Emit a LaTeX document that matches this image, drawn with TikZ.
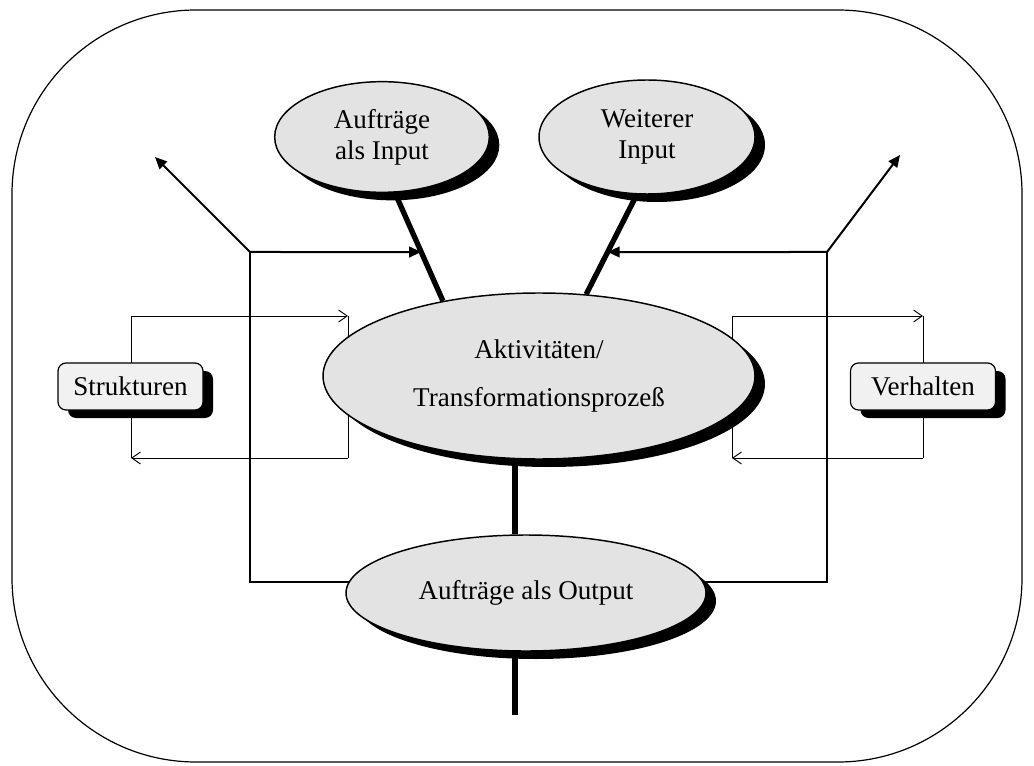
\documentclass[tikz,border=0pt]{standalone}
\usepackage{fontspec}
\setmainfont{Liberation Serif}
\usetikzlibrary{shapes.geometric,shadows,arrows.meta,backgrounds}
\definecolor{procgray}{gray}{0.89}
\definecolor{boxgray}{gray}{0.945}
\begin{document}
\begin{tikzpicture}[x=0.75pt,y=-0.75pt,
  every node/.style={font=\fontsize{20.3}{23.4}\selectfont, text=black},
  shadowed/.style={drop shadow={shadow xshift=7.5pt, shadow yshift=-6pt, fill=black, opacity=1}},
  proc/.style={ellipse, draw=black, line width=1.1pt, fill=procgray, inner sep=0pt, align=center, shadowed},
  labelbox/.style={rectangle, rounded corners=6pt, draw=black, line width=0.9pt, fill=boxgray,
    minimum width=108.75pt, minimum height=35.25pt, inner sep=0pt, shadowed},
  frameline/.style={line width=1.5pt},
  frametip/.style={-{Triangle[length=9pt,width=8pt]}},
  feed/.style={line width=4pt},
  loopline/.style={line width=0.7pt},
  looptip/.style={-{Straight Barb[length=6.5pt,width=9pt,line width=0.7pt]}},
]
\useasboundingbox (0,0) rectangle (1034,766);

% outer frame
\draw[line width=0.9pt, rounded corners=138pt] (12,10) rectangle (1022,762);

% process ellipses and labels
\node[proc, minimum width=161pt, minimum height=83pt] (inA) at (382,137) {Aufträge\\als Input};
\node[proc, minimum width=162pt, minimum height=85.5pt] (inB) at (647,137) {Weiterer\\Input};
\node[proc, minimum width=324pt, minimum height=124.5pt] (main) at (539,376)
  {Aktivitäten/\\[12.5pt]Transformationsprozeß};
\node[proc, minimum width=270pt, minimum height=87pt] (out) at (526,593) {Aufträge als Output};
\node[labelbox] (struk) at (130.5,386.5) {Strukturen};
\node[labelbox] (verh) at (923,386.5) {Verhalten};

% helper points
\coordinate (cL) at (250,252);
\coordinate (cR) at (827,252);
\coordinate (tipL) at (155,157);
\coordinate (tipR) at (900,155);
\coordinate (bL) at (250,582);
\coordinate (bR) at (827,582);
\coordinate (spine) at (515,0);
\coordinate (exit) at (515,715);
\coordinate (sl1) at (131,316);
\coordinate (sl2) at (348,316);
\coordinate (sl3) at (348,458);
\coordinate (sl4) at (131,458);
\coordinate (sr1) at (732,316);
\coordinate (sr2) at (923,316);
\coordinate (sr3) at (923,458);
\coordinate (sr4) at (732,458);

\begin{scope}[on background layer]
  % main flow
  \draw[feed] (inA.-77) -- (main.142);
  \draw[feed] (inB.-100) -- (main.60);
  \draw[feed] (main.south -| spine) -- (out.north -| spine);
  \draw[feed] (out.south -| spine) -- (exit);
  % feedback frame
  \draw[frameline] (out.center |- bL) -- (bL) -- (cL);
  \draw[frameline, frametip] (cL) -- (tipL);
  \draw[frameline, frametip] (cL) -- (intersection of inA.-77--main.142 and cL--cR);
  \draw[frameline] (out.center |- bR) -- (bR) -- (cR);
  \draw[frameline, frametip] (cR) -- (tipR);
  \draw[frameline, frametip] (cR) -- (intersection of inB.-100--main.60 and cR--cL);
  % structure loop
  \draw[loopline] (sl1) -- (sl4);
  \draw[loopline] (sl2) -- (sl3);
  \draw[loopline, looptip] (sl1) -- (sl2);
  \draw[loopline, looptip] (sl3) -- (sl4);
  % behaviour loop
  \draw[loopline] (sr1) -- (sr4);
  \draw[loopline] (sr2) -- (sr3);
  \draw[loopline, looptip] (sr1) -- (sr2);
  \draw[loopline, looptip] (sr3) -- (sr4);
\end{scope}
\end{tikzpicture}
\end{document}
